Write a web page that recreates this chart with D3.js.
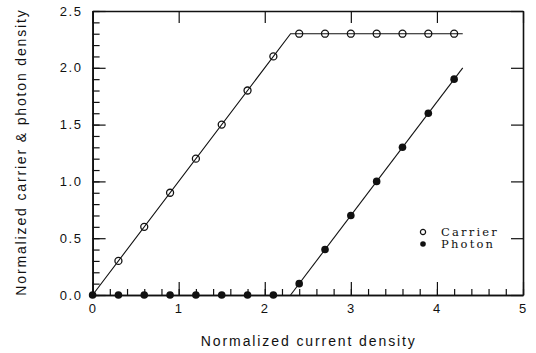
<!DOCTYPE html>
<html>
<head>
<meta charset="utf-8">
<script src="https://cdn.jsdelivr.net/npm/d3@7"></script>
<style>
  html, body { margin: 0; padding: 0; background: #fff; }
  svg { display: block; }
  .tick text { font-family: "Liberation Sans", Arial, sans-serif; font-size: 13px; letter-spacing: 1.6px; fill: #111; }
</style>
</head>
<body>
<svg id="chart" width="536" height="353"></svg>
<script>
// Measured points
const carrierX = [0.3, 0.6, 0.9, 1.2, 1.5, 1.8, 2.1, 2.4, 2.7, 3.0, 3.3, 3.6, 3.9, 4.2];
const carrierY = [0.3, 0.6, 0.9, 1.2, 1.5, 1.8, 2.1, 2.3, 2.3, 2.3, 2.3, 2.3, 2.3, 2.3];
const photonX  = [0.0, 0.3, 0.6, 0.9, 1.2, 1.5, 1.8, 2.1, 2.4, 2.7, 3.0, 3.3, 3.6, 3.9, 4.2];
const photonY  = [0.0, 0.0, 0.0, 0.0, 0.0, 0.0, 0.0, 0.0, 0.1, 0.4, 0.7, 1.0, 1.3, 1.6, 1.9];

// Rate-equation fit lines (threshold at 2.3)
const carrierFitX = [0, 2.3, 4.3];
const carrierFitY = [0, 2.3, 2.3];
const photonFitX  = [2.3, 4.3];
const photonFitY  = [0, 2.0];

// Axis ticks
const xMajorTicks = [0, 1, 2, 3, 4, 5];
const xMinorTicks = d3.range(0, 5.001, 0.2).map(v => +v.toFixed(1));
const yMajorTicks = [0, 0.5, 1.0, 1.5, 2.0, 2.5];
const yMinorTicks = d3.range(0, 2.501, 0.1).map(v => +v.toFixed(1));

const xTitle = "Normalized current density";
const yTitle = "Normalized carrier & photon density";
const legendLabels = ["Carrier", "Photon"];

const svg = d3.select("#chart");
const plotLeft = 92.6, plotRight = 523, plotTop = 11, plotBottom = 295;

const x = d3.scaleLinear().domain([0, 5]).range([plotLeft, plotRight]);
const y = d3.scaleLinear().domain([0, 2.5]).range([plotBottom, plotTop]);

const ink = "#111";

// Axes with inward ticks
svg.append("g").attr("transform", `translate(0,${plotBottom})`)
  .call(d3.axisBottom(x).tickValues(xMajorTicks).tickFormat(d3.format("d")).tickSizeInner(-13).tickSizeOuter(0).tickPadding(9));
svg.append("g").attr("transform", `translate(0,${plotBottom})`)
  .call(d3.axisBottom(x).tickValues(xMinorTicks).tickFormat("").tickSizeInner(-6).tickSizeOuter(0));
svg.append("g").attr("transform", `translate(${plotLeft},0)`)
  .call(d3.axisLeft(y).tickValues(yMajorTicks).tickFormat(d3.format(".1f")).tickSizeInner(-13).tickSizeOuter(0).tickPadding(10));
svg.append("g").attr("transform", `translate(${plotLeft},0)`)
  .call(d3.axisLeft(y).tickValues(yMinorTicks).tickFormat("").tickSizeInner(-7).tickSizeOuter(0));
svg.append("g").attr("transform", `translate(0,${plotTop})`)
  .call(d3.axisTop(x).tickValues(xMajorTicks).tickFormat("").tickSizeInner(-12).tickSizeOuter(0));
svg.append("g").attr("transform", `translate(${plotRight},0)`)
  .call(d3.axisRight(y).tickValues(yMajorTicks).tickFormat("").tickSizeInner(-12).tickSizeOuter(0));

svg.selectAll(".domain").attr("stroke", ink).attr("stroke-width", 1.6);
svg.selectAll(".tick line").attr("stroke", ink).attr("stroke-width", 1.2);
svg.selectAll(".tick text").attr("fill", ink);

// Fit lines
const line = d3.line().x(d => x(d[0])).y(d => y(d[1]));
svg.append("path").datum(d3.zip(carrierFitX, carrierFitY))
  .attr("d", line).attr("fill", "none").attr("stroke", ink).attr("stroke-width", 1.1);
svg.append("path").datum(d3.zip(photonFitX, photonFitY))
  .attr("d", line).attr("fill", "none").attr("stroke", ink).attr("stroke-width", 1.1);

// Markers
svg.append("g").selectAll("circle").data(d3.zip(carrierX, carrierY)).join("circle")
  .attr("cx", d => x(d[0])).attr("cy", d => y(d[1])).attr("r", 3.5)
  .attr("fill", "none").attr("stroke", ink).attr("stroke-width", 1.3);
svg.append("g").selectAll("circle").data(d3.zip(photonX, photonY)).join("circle")
  .attr("cx", d => x(d[0])).attr("cy", d => y(d[1])).attr("r", 3.8)
  .attr("fill", ink);

// Legend
const leg = svg.append("g").attr("transform", "translate(423,232)");
leg.append("circle").attr("cx", 0).attr("cy", 0).attr("r", 2.6).attr("fill", "none").attr("stroke", ink).attr("stroke-width", 1.2);
leg.append("circle").attr("cx", 0).attr("cy", 12).attr("r", 2.8).attr("fill", ink);
leg.selectAll("text").data(legendLabels).join("text")
  .attr("x", 18).attr("y", (d, i) => 3.5 + i * 12.5)
  .attr("font-family", "'DejaVu Serif', serif").attr("font-size", 11.5)
  .attr("letter-spacing", "2.2px").attr("fill", ink)
  .text(d => d);

// Axis titles
svg.append("text").attr("x", (plotLeft + plotRight) / 2 + 1).attr("y", 346)
  .attr("text-anchor", "middle")
  .attr("font-family", "'Liberation Sans', Arial, sans-serif").attr("font-size", 14)
  .attr("letter-spacing", "1.9px").attr("fill", ink)
  .text(xTitle);
svg.append("text").attr("transform", "translate(26,152) rotate(-90)")
  .attr("text-anchor", "middle")
  .attr("font-family", "'Liberation Sans', Arial, sans-serif").attr("font-size", 14)
  .attr("letter-spacing", "1.85px").attr("fill", ink)
  .text(yTitle);
</script>
</body>
</html>
